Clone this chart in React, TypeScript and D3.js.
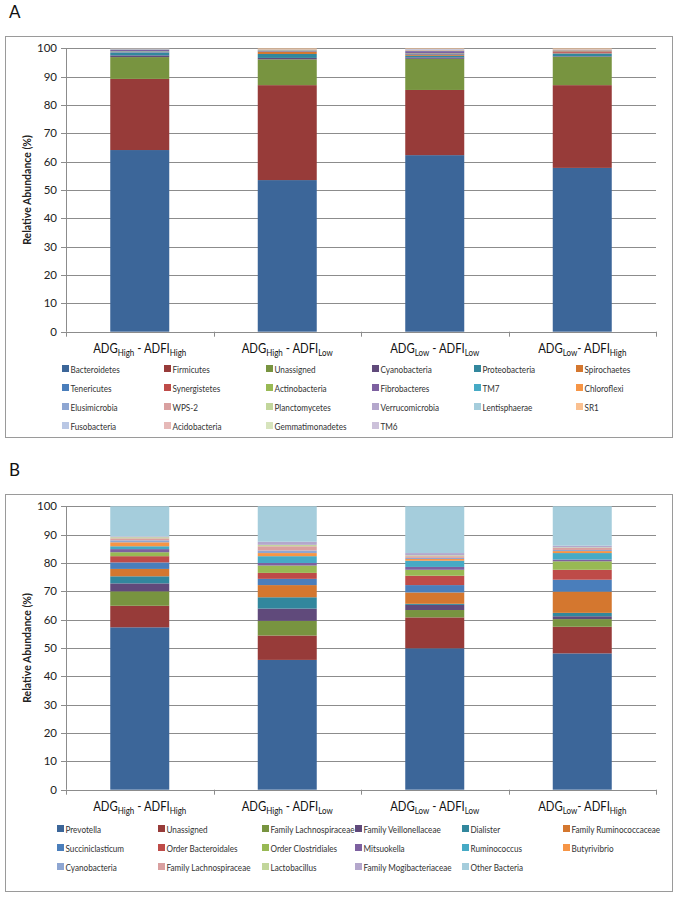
import React from 'react';
import * as d3 from 'd3';

// ---------- shared category labels ----------
const catA = ['ADG', 'ADG', 'ADG', 'ADG'];
const catASub = ['High', 'High', 'Low', 'Low'];
const catMid = [' - ADFI', ' - ADFI', ' - ADFI', '- ADFI'];
const catBSub = ['High', 'Low', 'Low', 'High'];
const yTicks = [0, 10, 20, 30, 40, 50, 60, 70, 80, 90, 100];

// ---------- Panel A: phyla ----------
const phylaNames = [
  'Bacteroidetes', 'Firmicutes', 'Unassigned', 'Cyanobacteria', 'Proteobacteria', 'Spirochaetes',
  'Tenericutes', 'Synergistetes', 'Actinobacteria', 'Fibrobacteres', 'TM7', 'Chloroflexi',
  'Elusimicrobia', 'WPS-2', 'Planctomycetes', 'Verrucomicrobia', 'Lentisphaerae', 'SR1',
  'Fusobacteria', 'Acidobacteria', 'Gemmatimonadetes', 'TM6',
];
const bacteroidetes = [64.1, 53.5, 62.3, 57.8];
const firmicutes = [25.1, 33.5, 23.0, 29.2];
const unassignedA = [7.7, 9.1, 11.0, 10.0];
const cyanobacteriaA = [0.6, 0.5, 0.5, 0.2];
const proteobacteria = [0.9, 1.4, 0.5, 0.8];
const spirochaetes = [0.1, 0.75, 0.3, 0.2];
const tenericutes = [0.4, 0.2, 0.3, 0.2];
const synergistetes = [0.05, 0.1, 0.1, 0.5];
const actinobacteria = [0.1, 0.1, 0.2, 0.1];
const fibrobacteres = [0.4, 0.1, 0.8, 0.2];
const tm7 = [0.1, 0.1, 0.1, 0.1];
const chloroflexi = [0.05, 0.2, 0.15, 0.2];
const elusimicrobia = [0.1, 0.05, 0.1, 0.05];
const wps2 = [0.05, 0.05, 0.1, 0.1];
const planctomycetes = [0.05, 0.05, 0.05, 0.05];
const verrucomicrobia = [0.1, 0.05, 0.2, 0.05];
const lentisphaerae = [0.05, 0.05, 0.1, 0.05];
const sr1 = [0.05, 0.2, 0.2, 0.2];
const fusobacteria = [0.0, 0.0, 0.0, 0.0];
const acidobacteria = [0.0, 0.0, 0.0, 0.0];
const gemmatimonadetes = [0.0, 0.0, 0.0, 0.0];
const tm6 = [0.0, 0.0, 0.0, 0.0];
const phylaValues = [
  bacteroidetes, firmicutes, unassignedA, cyanobacteriaA, proteobacteria, spirochaetes,
  tenericutes, synergistetes, actinobacteria, fibrobacteres, tm7, chloroflexi,
  elusimicrobia, wps2, planctomycetes, verrucomicrobia, lentisphaerae, sr1,
  fusobacteria, acidobacteria, gemmatimonadetes, tm6,
];

// ---------- Panel B: genera ----------
const generaNames = [
  'Prevotella', 'Unassigned', 'Family Lachnospiraceae', 'Family Veillonellaceae', 'Dialister', 'Family Ruminococcaceae',
  'Succiniclasticum', 'Order Bacteroidales', 'Order Clostridiales', 'Mitsuokella', 'Ruminococcus', 'Butyrivibrio',
  'Cyanobacteria', 'Family Lachnospiraceae', 'Lactobacillus', 'Family Mogibacteriaceae', 'Other Bacteria',
];
const prevotella = [57.3, 45.8, 49.9, 48.1];
const unassignedB = [7.6, 8.6, 10.9, 9.4];
const famLachno = [5.1, 5.2, 2.6, 2.7];
const famVeillo = [2.8, 4.3, 1.8, 1.0];
const dialister = [2.5, 4.0, 0.4, 1.2];
const famRumino = [2.6, 4.3, 4.0, 7.5];
const succini = [2.3, 2.2, 2.6, 4.2];
const ordBacteroidales = [2.2, 2.1, 3.3, 3.5];
const ordClostridiales = [1.4, 2.6, 2.1, 3.0];
const mitsuokella = [1.1, 0.9, 1.0, 0.6];
const ruminococcus = [1.0, 2.4, 2.2, 2.3];
const butyrivibrio = [1.4, 1.1, 0.6, 0.7];
const cyanobacteriaB = [0.7, 0.9, 0.4, 0.4];
const famLachno2 = [0.7, 1.5, 0.6, 0.7];
const lactobacillus = [0.4, 0.5, 0.3, 0.2];
const famMogi = [0.3, 1.1, 0.8, 0.6];
const otherBacteria = [10.6, 12.5, 16.5, 13.9];
const generaValues = [
  prevotella, unassignedB, famLachno, famVeillo, dialister, famRumino,
  succini, ordBacteroidales, ordClostridiales, mitsuokella, ruminococcus, butyrivibrio,
  cyanobacteriaB, famLachno2, lactobacillus, famMogi, otherBacteria,
];

const palette = [
  '#3C6699', '#973B39', '#789440', '#604A7B', '#32879D', '#D4772F',
  '#4A7EBB', '#BE4B48', '#98B954', '#7D60A0', '#46AAC5', '#F69546',
  '#8EA6D2', '#D9A0A0', '#C2D69B', '#B4A7CC', '#A5CDDC', '#FAC090',
  '#B9C7E4', '#E6B9B8', '#D7E4BD', '#CCC1DA',
];

const FONT = 'Lato, "Open Sans", "DejaVu Sans", sans-serif';

type PanelProps = {
  letter: string;
  oy: number;
  frameH: number;
  names: string[];
  values: number[][];
  legendX: number[];
  legendY: number[];
};

function Panel({ letter, oy, frameH, names, values, legendX, legendY }: PanelProps) {
  const x0 = 66, x1 = 656;
  const yTop = oy + 48.3, yBot = oy + 331.7;
  const idx = [0, 1, 2, 3];
  const x = d3.scaleBand<number>().domain(idx).range([x0, x1]).paddingInner(0.6).paddingOuter(0.3);
  const xb = d3.scaleBand<number>().domain(idx).range([x0, x1]);
  const y = d3.scaleLinear().domain([0, 100]).range([yBot, yTop]);
  const rows = idx.map(i => {
    const r: Record<string, number> = {};
    values.forEach((v, k) => { r['s' + k] = v[i]; });
    return r;
  });
  const keys = values.map((_, k) => 's' + k);
  const stacked = d3.stack<Record<string, number>>().keys(keys)(rows);
  const grid = '#8C8C8C';
  const nCols = legendX.length;
  return (
    <g>
      <text x={9} y={oy + 18} fontSize={17} fontFamily={FONT} fill="#111">{letter}</text>
      <rect x={5.5} y={oy + 36.5} width={667} height={frameH} fill="none" stroke="#9A9A9A" strokeWidth={1} />
      {yTicks.map(t => (
        <g key={t}>
          {t > 0 && <line x1={x0} x2={x1} y1={Math.round(y(t)) + 0.5} y2={Math.round(y(t)) + 0.5} stroke={grid} strokeWidth={1} />}
          <line x1={x0 - 5} x2={x0} y1={Math.round(y(t)) + 0.5} y2={Math.round(y(t)) + 0.5} stroke={grid} />
          <text x={x0 - 9} y={y(t) + 4} textAnchor="end" fontSize={11.5} fontFamily={FONT} fill="#222">{t}</text>
        </g>
      ))}
      {stacked.map((s, k) => (
        <g key={k} fill={palette[k]}>
          {s.map((d, i) => (
            <rect key={i} x={x(i)} width={x.bandwidth()} y={y(d[1])} height={Math.max(0, y(d[0]) - y(d[1]))} />
          ))}
        </g>
      ))}
      <line x1={x0 + 0.5} x2={x0 + 0.5} y1={yTop} y2={yBot} stroke={grid} />
      <line x1={x0} x2={x1} y1={Math.round(yBot) + 0.5} y2={Math.round(yBot) + 0.5} stroke={grid} />
      {[0, 1, 2, 3, 4].map(i => {
        const xx = Math.round(i < 4 ? (xb(i) as number) : x1) + 0.5;
        return <line key={i} x1={xx} x2={xx} y1={yBot} y2={yBot + 5} stroke={grid} />;
      })}
      <text transform={`translate(31,${(yTop + yBot) / 2}) rotate(-90)`} textAnchor="middle" fontSize={10.5}
        fontWeight="bold" fontFamily={FONT} fill="#222">Relative Abundance (%)</text>
      {idx.map(i => (
        <text key={i} transform={`translate(${(xb(i) as number) + xb.bandwidth() / 2},${yBot + 21}) scale(0.84,1)`}
          textAnchor="middle" fontSize={13.5} fontFamily={FONT} fill="#111">
          {catA[i]}
          <tspan fontSize={9.5} dy={3}>{catASub[i]}</tspan>
          <tspan dy={-3}>{catMid[i]}</tspan>
          <tspan fontSize={9.5} dy={3}>{catBSub[i]}</tspan>
        </text>
      ))}
      {names.map((n, k) => {
        const col = k % nCols, row = Math.floor(k / nCols);
        const lx = legendX[col], ly = oy + legendY[row];
        return (
          <g key={k}>
            <rect x={lx} y={ly - 4} width={7} height={7} fill={palette[k]} />
            <text transform={`translate(${lx + 8.5},${ly + 3.5}) scale(0.8,1)`} fontSize={10.2}
              fontFamily={FONT} fill="#333">{n}</text>
          </g>
        );
      })}
    </g>
  );
}

export default function App() {
  return (
    <svg width={680} height={897} style={{ position: 'absolute', left: 0, top: 0, display: 'block', background: '#fff' }}>
      <rect width={680} height={897} fill="#fff" />
      <Panel letter="A" oy={0} frameH={401} names={phylaNames} values={phylaValues}
        legendX={[62, 164, 266, 372, 474, 576]} legendY={[369, 388, 407, 426]} />
      <Panel letter="B" oy={458} frameH={397} names={generaNames} values={generaValues}
        legendX={[57, 158, 262, 355, 462, 563]} legendY={[371, 390, 409]} />
    </svg>
  );
}
